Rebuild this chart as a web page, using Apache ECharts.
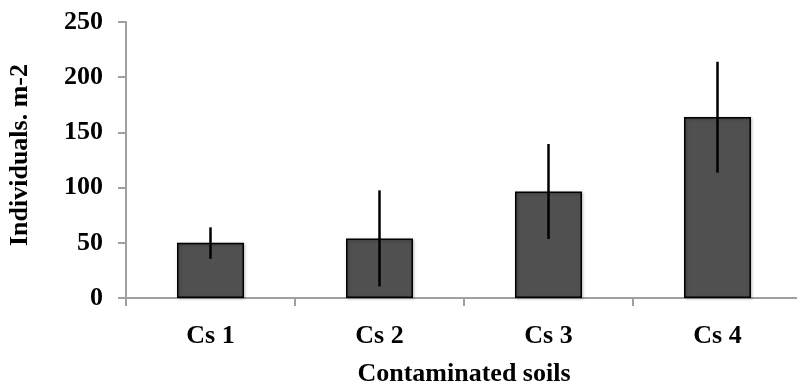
<!DOCTYPE html>
<html>
<head>
<meta charset="utf-8">
<script src="https://cdn.jsdelivr.net/npm/echarts@6/dist/echarts.min.js"></script>
<style>
  html, body { margin: 0; padding: 0; background: #fff; }
  #chart { width: 797px; height: 388px; }
</style>
</head>
<body>
<div id="chart"></div>
<script>
var categories = ['Cs 1', 'Cs 2', 'Cs 3', 'Cs 4'];
var means = [50, 54, 96.5, 164];
var errLow = [35.5, 10.5, 53.5, 113.5];
var errHigh = [64, 97.5, 139.5, 214];

var chart = echarts.init(document.getElementById('chart'));
var fontFamily = '"Liberation Serif", "Times New Roman", serif';
var axisColor = '#a0a0a0';

var errData = categories.map(function (c, i) {
  return [i, errLow[i], errHigh[i]];
});

var option = {
  animation: false,
  grid: {
    left: 126,
    top: 22,
    width: 676,
    height: 276,
    outerBoundsMode: 'none'
  },
  xAxis: {
    type: 'category',
    data: categories,
    name: 'Contaminated soils',
    nameLocation: 'middle',
    nameGap: 63,
    nameTextStyle: { fontFamily: fontFamily, fontWeight: 'bold', fontSize: 26, color: '#000' },
    axisLine: { lineStyle: { color: axisColor, width: 2 } },
    axisTick: { show: true, length: 8, lineStyle: { color: axisColor, width: 2 } },
    axisLabel: { fontFamily: fontFamily, fontWeight: 'bold', fontSize: 26, color: '#000', margin: 25 }
  },
  yAxis: {
    type: 'value',
    min: 0,
    max: 250,
    interval: 50,
    name: 'Individuals. m-2',
    nameLocation: 'middle',
    nameGap: 93,
    nameTextStyle: { fontFamily: fontFamily, fontWeight: 'bold', fontSize: 26, color: '#000', padding: [0, 0, 0, 10] },
    axisLine: { show: true, lineStyle: { color: axisColor, width: 2 } },
    axisTick: { show: true, length: 8, lineStyle: { color: axisColor, width: 2 } },
    axisLabel: { fontFamily: fontFamily, fontWeight: 'bold', fontSize: 26, color: '#000', margin: 23, padding: [6, 0, 0, 0] },
    splitLine: { show: false }
  },
  series: [{
    type: 'bar',
    data: means,
    barWidth: 67,
    itemStyle: {
      color: '#505050',
      borderColor: '#000',
      borderWidth: 1.5,
      shadowColor: 'rgba(0,0,0,0.3)',
      shadowBlur: 3,
      shadowOffsetX: 1,
      shadowOffsetY: 1
    }
  }, {
    type: 'custom',
    data: errData,
    z: 10,
    renderItem: function (params, api) {
      var lo = api.coord([api.value(0), api.value(1)]);
      var hi = api.coord([api.value(0), api.value(2)]);
      return {
        type: 'line',
        shape: { x1: lo[0], y1: lo[1], x2: hi[0], y2: hi[1] },
        style: { stroke: '#000', lineWidth: 2.5 }
      };
    }
  }]
};
chart.setOption(option);
</script>
</body>
</html>
